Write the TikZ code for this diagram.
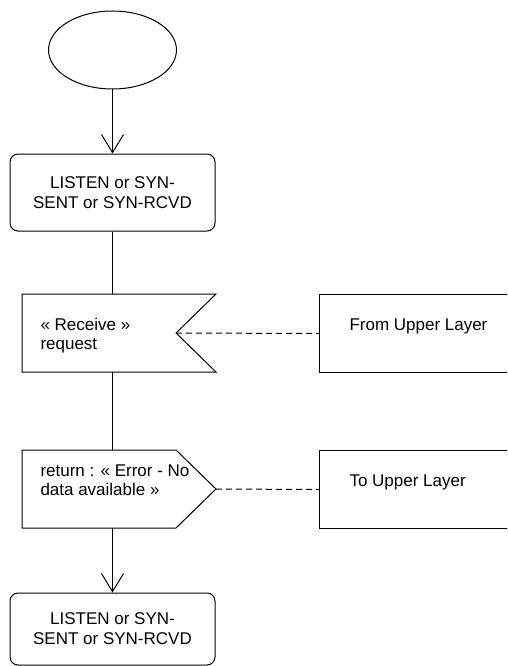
\documentclass[tikz,border=0pt]{standalone}
\usepackage{fontspec}
\setmainfont{Liberation Sans}
\usetikzlibrary{positioning,calc,arrows.meta,shapes.geometric}
\newcommand*{\lbl}{\fontsize{17}{18.5}\selectfont}

\begin{document}
\begin{tikzpicture}[x=1pt,y=-1pt,line width=1pt,
  state/.style={draw,rounded corners=8pt,minimum width=205pt,
    minimum height=77pt,align=center,font=\fontsize{17}{20}\selectfont},
  frame/.style={draw,minimum width=202pt,minimum height=78pt},
  tag/.style={anchor=base west,inner sep=0pt,align=left,font=\lbl},
  flow/.style={-{Straight Barb[length=18pt,width=22pt]}},
  link/.style={dash pattern=on 6pt off 4pt}]
\useasboundingbox (0,0) rectangle (507,666);
\clip (0,0) rectangle (507,666);
% Start state
\node[draw,ellipse,minimum width=128pt,minimum height=78pt,inner sep=0pt]
  (start) at (112.5,50) {};
% States before and after
\node[state] (top) at (112.5,192.5) {LISTEN or SYN-\\SENT or SYN-RCVD};
\node[state,minimum height=72pt] (bottom) at (112.5,629)
  {LISTEN or SYN-\\SENT or SYN-RCVD};
% Receive signal: notch on the right side
\coordinate (recvnw) at (22,294);
\coordinate (recvne) at (216,294);
\coordinate (recvnotch) at (176,333);
\coordinate (recvse) at (216,372);
\coordinate (recvsw) at (22,372);
\draw (recvnw) -- (recvne) -- (recvnotch) -- (recvse) -- (recvsw) -- cycle;
\node[tag] (recvtext) at ($(recvnw)+(18,55)$) {« Receive »\\request};
% Return signal: point on the right side
\coordinate (retnw) at (22,450);
\coordinate (retne) at (176,450);
\coordinate (retpoint) at (216,489);
\coordinate (retse) at (176,528);
\coordinate (retsw) at (22,528);
\draw (retnw) -- (retne) -- (retpoint) -- (retse) -- (retsw) -- cycle;
\node[tag] (rettext) at ($(retnw)+(18,45)$)
  {return : « Error - No\\data available »};
% Upper layer boxes
\node[frame,anchor=north west] (from) at (319,294) {};
\node[tag] (fromtext) at ($(from.north west)+(30,36)$) {From Upper Layer};
\node[frame,anchor=north west] (to) at (319,450) {};
\node[tag] (totext) at ($(to.north west)+(30,36)$) {To Upper Layer};
% Flow lines
\draw[flow] (start) -- (top);
\draw (top.south) -- (top.south |- recvnw);
\draw (top.south |- recvsw) -- (top.south |- retnw);
\draw[flow] (top.south |- retsw) -- (bottom.north);
% Dashed links to the upper layer
\draw[link] (recvnotch) -- (from.west);
\draw[link] (retpoint) -- (to.west);
\end{tikzpicture}
\end{document}
